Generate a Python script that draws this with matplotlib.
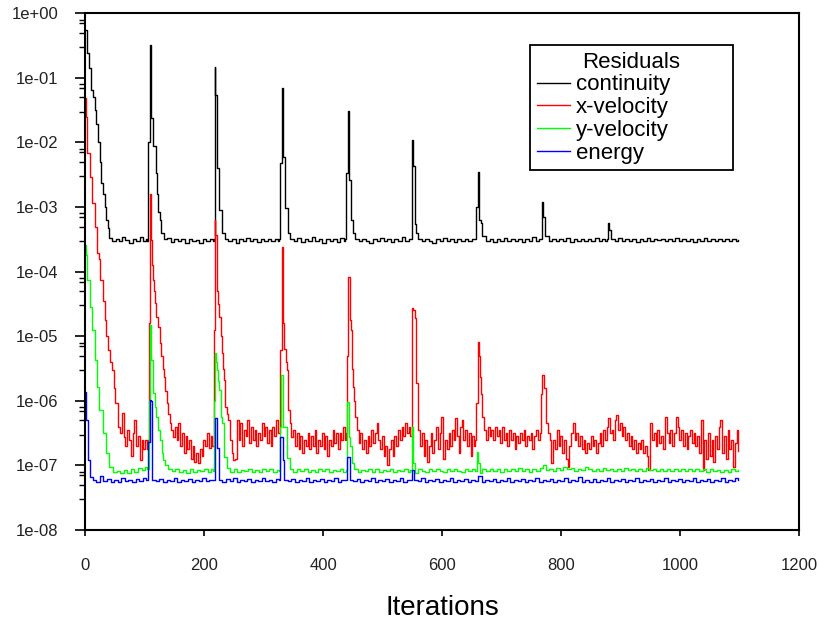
import matplotlib

matplotlib.use("Agg")
import matplotlib.pyplot as plt
import numpy as np
from matplotlib.ticker import FixedLocator, LogLocator, NullFormatter

# residual histories, as log10(residual) at given iterations
cont_it = [0, 3, 4, 6, 9, 10, 13, 16, 19, 22, 25, 27, 30, 33, 36, 38, 41,
           46, 52, 57, 63, 68, 74, 80, 86, 92, 98, 103,
           105, 106, 109, 110, 111, 114, 115, 119, 121, 123, 126, 128, 132,
           138, 144, 150, 156, 162, 168, 174, 180, 186, 192, 198, 204, 210, 215,
           217, 218, 219, 221, 222, 225, 226, 229, 231, 235,
           241, 247, 253, 259, 265, 271, 277, 283, 289, 295, 301, 307, 313, 319, 324,
           326, 327, 330, 331, 332, 335, 336, 339, 341, 345,
           351, 357, 363, 369, 375, 381, 387, 393, 399, 405, 411, 417, 423, 429, 435,
           437, 438, 441, 442, 443, 446, 447, 450, 454,
           460, 466, 472, 478, 484, 490, 496, 502, 508, 514, 520, 526, 532, 538, 544,
           549, 550, 551, 553, 554, 557, 560,
           566, 572, 578, 584, 590, 596, 602, 608, 614, 620, 626, 632, 638, 644, 650,
           656, 657, 660, 661, 662, 665, 668,
           674, 680, 686, 692, 698, 704, 710, 716, 722, 728, 734, 740, 746, 752, 758, 763,
           767, 768, 769, 772, 773,
           779, 785, 791, 797, 803, 809, 815, 821, 827, 833, 839, 845, 851, 857, 863, 869, 874,
           878, 879, 880, 883, 884,
           890, 896, 902, 908, 914, 920, 926, 932, 938, 944, 950, 956, 962, 968, 974, 980,
           986, 992, 998, 1004, 1010, 1016, 1022, 1028, 1034, 1040, 1046, 1052, 1058,
           1064, 1070, 1076, 1082, 1088, 1094, 1097]
cont_log = [-0.26, -0.3, -0.62, -0.85, -0.85, -1.19, -1.3, -1.5, -1.72, -2.0, -2.3, -2.62, -2.8, -3.0, -3.2, -3.32, -3.48,
            -3.52, -3.49, -3.53, -3.47, -3.51, -3.55, -3.49, -3.52, -3.47, -3.53, -3.5,
            -3.52, -1.99, -1.99, -0.49, -1.62, -1.62, -2.05, -2.47, -2.8, -3.08, -3.2, -3.4, -3.5,
            -3.48, -3.54, -3.5, -3.52, -3.49, -3.55, -3.5, -3.52, -3.51, -3.55, -3.5, -3.52, -3.49, -3.53,
            -3.5, -0.83, -1.27, -1.27, -2.4, -2.4, -3.05, -3.05, -3.4, -3.5,
            -3.53, -3.49, -3.55, -3.5, -3.52, -3.48, -3.53, -3.5, -3.54, -3.49, -3.52, -3.5, -3.53, -3.49, -3.52,
            -3.5, -2.32, -2.32, -1.16, -2.22, -2.22, -3.02, -3.02, -3.4, -3.5,
            -3.52, -3.48, -3.54, -3.5, -3.53, -3.47, -3.52, -3.5, -3.55, -3.49, -3.52, -3.5, -3.54, -3.48, -3.52,
            -3.5, -2.48, -2.48, -1.52, -2.58, -2.58, -3.2, -3.4, -3.5,
            -3.53, -3.49, -3.52, -3.55, -3.5, -3.52, -3.48, -3.53, -3.5, -3.54, -3.5, -3.52, -3.47, -3.53, -3.5,
            -3.5, -1.96, -2.37, -2.37, -3.26, -3.4, -3.5,
            -3.53, -3.49, -3.52, -3.55, -3.5, -3.53, -3.48, -3.52, -3.5, -3.54, -3.49, -3.52, -3.5, -3.53, -3.49,
            -3.5, -3.0, -3.0, -2.45, -3.2, -3.25, -3.45,
            -3.52, -3.49, -3.54, -3.5, -3.52, -3.48, -3.53, -3.5, -3.52, -3.49, -3.54, -3.5, -3.52, -3.47, -3.53, -3.5,
            -3.5, -2.92, -3.15, -3.15, -3.45,
            -3.52, -3.49, -3.53, -3.5, -3.52, -3.48, -3.54, -3.5, -3.52, -3.49, -3.53, -3.5, -3.52, -3.48, -3.53, -3.5, -3.52,
            -3.5, -3.24, -3.36, -3.36, -3.5,
            -3.52, -3.48, -3.53, -3.5, -3.52, -3.49, -3.54, -3.5, -3.52, -3.48, -3.53, -3.5, -3.51, -3.49, -3.53, -3.5,
            -3.52, -3.48, -3.53, -3.5, -3.52, -3.49, -3.54, -3.5, -3.52, -3.48, -3.53, -3.5, -3.52,
            -3.49, -3.53, -3.5, -3.52, -3.5, -3.53, -3.51]

xvel_it = [0, 2, 4, 8, 12, 16, 20, 23, 26, 30, 33, 36, 39, 42, 45, 48, 51, 55, 59,
           62, 65, 68, 71, 74, 77, 80, 83, 86, 89, 92, 95, 98, 101, 104, 106,
           107, 109, 110, 111, 113, 114, 116, 118, 120, 123, 126, 128, 131, 133, 135, 137, 140, 142, 145, 148,
           151, 154, 157, 160, 163, 166, 169, 172, 175, 178, 181, 184, 187, 190, 193, 196, 199, 202, 205, 208, 211, 214,
           216, 217, 218, 219, 221, 222, 224, 226, 228, 230, 232, 234, 236, 238, 241, 244, 247, 249,
           252, 255, 258, 261, 264, 267, 270, 273, 276, 279, 282, 285, 288, 291, 294, 297, 300, 303, 306, 309,
           312, 315, 318, 321, 324,
           326, 327, 330, 331, 332, 333, 335, 337, 339, 341, 344, 347,
           350, 353, 356, 359, 362, 365, 368, 371, 374, 377, 380, 383, 386, 389, 392, 395, 398, 401, 404, 407,
           410, 413, 416, 419, 422, 425, 428, 431, 434, 437,
           439, 440, 441, 442, 444, 445, 447, 449, 450, 452, 454, 457,
           460, 463, 466, 469, 472, 475, 478, 481, 484, 487, 490, 493, 496, 499, 502, 505, 508, 511, 514, 517,
           520, 523, 526, 529, 532, 535, 538, 541, 544, 547,
           549, 550, 552, 554, 556, 557, 559, 560, 563,
           566, 569, 572, 575, 578, 581, 584, 587, 590, 593, 596, 599, 602, 605, 608, 611, 614, 617, 620, 622,
           625, 628, 631, 633, 636, 639, 642, 645, 648, 651, 654,
           656, 657, 660, 661, 663, 664, 666, 668, 671,
           674, 677, 680, 683, 686, 689, 692, 695, 698, 701, 704, 707, 710, 713, 716, 719, 722, 725, 728, 731,
           734, 737, 740, 743, 746, 749, 752, 755, 758, 761, 764,
           766, 767, 768, 771, 772, 774, 775, 778, 781,
           784, 787, 790, 793, 796, 799, 802, 805, 808, 811, 814, 817, 820, 823, 826, 829, 832, 835, 838, 841,
           844, 847, 850, 853, 856, 859, 862, 865, 868, 871, 874, 877, 879, 882, 885, 888, 891, 893, 896, 899,
           902, 905, 908, 911, 914, 917, 920, 923, 926, 929, 932, 935, 938, 941, 944, 947, 950, 953, 956, 959,
           962, 965, 968, 971, 974, 975, 978, 981, 984, 987, 990, 993, 996, 999, 1002, 1005, 1008, 1011, 1014,
           1017, 1020, 1023, 1026, 1029, 1032, 1035, 1038, 1041, 1044, 1047, 1050, 1053, 1056, 1059, 1062,
           1065, 1068, 1071, 1074, 1077, 1080, 1083, 1086, 1089, 1092, 1095, 1097]
xvel_log = [-1.31, -1.6, -2.17, -2.53, -2.94, -3.31, -3.71, -3.8, -4.13, -4.45, -4.75, -5.0, -5.21, -5.4, -5.52, -5.8, -6.04, -6.4, -6.5,
            -6.19, -6.56, -6.7, -6.45, -6.6, -6.85, -6.5, -6.3, -6.7, -6.55, -6.92, -6.6, -6.75, -6.6, -6.75, -6.6,
            -4.8, -4.8, -2.79, -3.51, -3.9, -4.13, -4.3, -4.49, -4.7, -4.85, -5.1, -5.31, -5.5, -5.63, -5.85, -6.04, -6.2, -6.35, -6.45, -6.56,
            -6.4, -6.6, -6.35, -6.7, -6.5, -6.8, -6.55, -6.75, -6.6, -6.9, -6.7, -6.95, -6.8, -6.97, -6.75, -6.85, -6.6, -6.7, -6.5, -6.73, -6.55, -6.7,
            -6.6, -4.9, -3.2, -3.43, -3.9, -4.3, -4.5, -4.7, -5.0, -5.26, -5.5, -5.68, -6.1, -6.2, -6.3, -6.6, -6.8, -6.92,
            -6.9, -6.3, -6.6, -6.35, -6.7, -6.45, -6.55, -6.3, -6.65, -6.4, -6.6, -6.45, -6.7, -6.5, -6.6, -6.35, -6.55, -6.4, -6.65, -6.45,
            -6.7, -6.4, -6.55, -6.3, -6.5,
            -6.5, -5.21, -5.21, -3.62, -4.34, -4.8, -5.2, -5.4, -5.52, -6.14, -6.35, -6.56,
            -6.45, -6.7, -6.5, -6.75, -6.55, -6.8, -6.6, -6.7, -6.5, -6.75, -6.55, -6.7, -6.45, -6.8, -6.6, -6.7, -6.5, -6.75, -6.55, -6.85,
            -6.6, -6.7, -6.45, -6.65, -6.5, -6.75, -6.5, -6.6, -6.4, -6.6,
            -6.5, -5.31, -5.31, -4.08, -4.08, -4.75, -4.9, -5.5, -5.78, -6.0, -6.25, -6.45,
            -6.65, -6.5, -6.75, -6.6, -6.8, -6.55, -6.7, -6.45, -6.65, -6.5, -6.35, -6.6, -6.75, -6.55, -6.85, -6.7, -7.0, -6.75, -6.6, -6.85,
            -6.55, -6.7, -6.45, -6.6, -6.4, -6.55, -6.35, -6.5, -6.4, -6.55,
            -6.4, -4.57, -4.6, -4.72, -5.3, -5.73, -6.1, -6.45, -6.7,
            -6.5, -6.85, -6.6, -6.95, -6.7, -6.5, -6.8, -6.6, -6.4, -6.75, -6.5, -6.25, -6.9, -6.6, -6.75, -6.5, -6.7, -6.45, -6.6, -6.27,
            -6.55, -6.8, -6.4, -6.3, -6.6, -6.45, -6.7, -6.5, -6.85, -6.55, -6.7,
            -6.6, -6.04, -6.04, -5.09, -5.3, -5.63, -5.9, -6.25, -6.45,
            -6.6, -6.4, -6.55, -6.45, -6.6, -6.4, -6.55, -6.45, -6.65, -6.4, -6.6, -6.5, -6.7, -6.45, -6.6, -6.5, -6.75, -6.55, -6.65, -6.5,
            -6.6, -6.45, -6.7, -6.55, -6.6, -6.5, -6.75, -6.55, -6.45, -6.6, -6.5,
            -6.5, -5.9, -5.6, -5.6, -5.8, -5.8, -6.35, -6.5, -6.6,
            -6.97, -6.6, -6.75, -6.45, -6.7, -6.55, -6.8, -6.6, -6.9, -7.02, -6.7, -6.5, -6.35, -6.6, -6.5, -6.7, -6.55, -6.75, -6.6, -6.8,
            -6.65, -6.75, -6.55, -6.7, -6.6, -6.8, -6.65, -6.5, -6.7, -6.45, -6.6, -6.4, -6.27, -6.5, -6.45, -6.6, -6.3, -6.22, -6.45, -6.35,
            -6.55, -6.4, -6.6, -6.5, -6.7, -6.55, -6.75, -6.6, -6.8, -6.65, -6.75, -6.6, -6.8, -6.7, -6.85, -7.07, -6.35, -6.6, -6.5, -6.7,
            -6.45, -6.65, -6.55, -6.75, -6.4, -6.25, -6.5, -6.65, -6.45, -6.7, -6.5, -6.25, -6.4, -6.6, -6.45, -6.7, -6.5, -6.75, -6.55,
            -6.45, -6.65, -6.5, -6.7, -6.55, -6.8, -6.3, -7.07, -6.6, -6.9, -6.5, -6.85, -6.6, -6.95, -6.55, -6.75,
            -6.4, -6.3, -6.8, -6.55, -6.9, -6.45, -6.75, -6.6, -7.02, -6.65, -6.45, -6.77]

yvel_it = [0, 2, 4, 8, 12, 16, 20, 24, 30, 36, 41, 47,
           53, 59, 65, 71, 77, 83, 89, 95, 101, 105,
           106, 107, 108, 109, 111, 114, 117, 120, 123, 126, 129, 131, 135, 140,
           146, 152, 158, 164, 170, 176, 182, 188, 194, 200, 206, 212, 215,
           216, 218, 220, 222, 224, 226, 229, 231, 233, 238,
           244, 250, 256, 262, 268, 274, 280, 286, 292, 298, 304, 310, 316, 322, 326,
           328, 330, 332, 336, 339, 344,
           350, 356, 362, 368, 374, 380, 386, 392, 398, 404, 410, 416, 422, 428, 434, 439,
           440, 441, 443, 444, 446, 448, 452,
           458, 464, 470, 476, 482, 488, 494, 500, 506, 512, 518, 524, 530, 536, 542, 547,
           549, 551, 552, 555, 560,
           566, 572, 578, 584, 590, 596, 602, 608, 614, 620, 626, 632, 638, 644, 650, 656,
           658, 660, 661, 664, 668,
           674, 680, 686, 692, 698, 704, 710, 716, 722, 728, 734, 740, 746, 752, 758, 764, 770, 774,
           780, 786, 792, 798, 804, 810, 816, 822, 828, 834, 840, 846, 852, 858, 864, 870, 876, 882,
           888, 894, 900, 906, 912, 918, 924, 930, 936, 942, 948, 954, 960, 966, 972, 978, 984, 990,
           996, 1002, 1008, 1014, 1020, 1026, 1032, 1038, 1044, 1050, 1056, 1062, 1068, 1074, 1080,
           1086, 1092, 1097]
yvel_log = [-3.59, -3.74, -4.13, -4.54, -4.9, -5.37, -5.78, -6.14, -6.5, -6.81, -7.02, -7.1,
            -7.08, -7.12, -7.07, -7.11, -7.06, -7.1, -7.04, -7.07, -7.03, -7.06,
            -7.05, -6.0, -6.0, -4.83, -5.37, -5.88, -6.1, -6.25, -6.45, -6.6, -6.8, -6.92, -7.0, -7.05,
            -7.09, -7.06, -7.1, -7.07, -7.11, -7.06, -7.1, -7.07, -7.09, -7.05, -7.1, -7.06, -7.08,
            -6.0, -5.26, -5.4, -5.52, -5.7, -5.83, -6.25, -6.35, -6.87, -7.04,
            -7.1, -7.06, -7.1, -7.07, -7.09, -7.05, -7.1, -7.07, -7.1, -7.05, -7.09, -7.06, -7.1, -7.07, -7.09,
            -6.4, -5.6, -6.4, -6.4, -6.89, -7.05,
            -7.1, -7.06, -7.09, -7.05, -7.1, -7.07, -7.1, -7.06, -7.09, -7.05, -7.1, -7.07, -7.09, -7.05, -7.1, -7.07,
            -6.56, -6.02, -6.02, -6.56, -6.7, -6.97, -7.05,
            -7.1, -7.07, -7.09, -7.05, -7.1, -7.06, -7.1, -7.07, -7.09, -7.05, -7.1, -7.07, -7.09, -7.06, -7.1, -7.07,
            -6.4, -6.4, -6.97, -7.12, -7.06,
            -7.08, -7.1, -7.06, -7.09, -7.05, -7.08, -7.1, -7.06, -7.09, -7.05, -7.08, -7.1, -7.06, -7.09, -7.06, -7.08,
            -6.79, -6.79, -6.97, -7.12, -7.06,
            -7.08, -7.05, -7.09, -7.06, -7.1, -7.05, -7.08, -7.06, -7.09, -7.04, -7.08, -7.06, -7.1, -7.05, -7.08, -7.04, -7.0, -7.07,
            -7.05, -7.09, -7.04, -7.07, -7.02, -7.06, -7.04, -7.08, -7.05, -7.07, -7.03, -7.06, -7.09, -7.05, -7.08, -7.04, -7.07, -7.05,
            -7.09, -7.06, -7.08, -7.04, -7.07, -7.05, -7.09, -7.06, -7.08, -7.04, -7.07, -7.05, -7.08, -7.06, -7.09, -7.05, -7.08, -7.06,
            -7.09, -7.05, -7.08, -7.06, -7.09, -7.05, -7.08, -7.06, -7.1, -7.06, -7.09, -7.07, -7.1, -7.07, -7.1,
            -7.06, -7.09, -7.07]

energy_it = [0, 2, 5, 8, 13,
             19, 25, 31, 37, 43, 49, 55, 61, 67, 73, 79, 85, 91, 97, 103,
             105, 106, 108, 109, 111, 112, 113,
             119, 125, 131, 137, 143, 149, 155, 161, 167, 173, 179, 185, 191, 197, 203, 209, 215,
             217, 218, 220, 221, 223, 225,
             231, 237, 243, 249, 255, 261, 267, 273, 279, 285, 291, 297, 303, 309, 315, 321, 326,
             327, 328, 332, 333, 335,
             341, 347, 353, 359, 365, 371, 377, 383, 389, 395, 401, 407, 413, 419, 425, 431, 437,
             440, 441, 444, 445,
             451, 457, 463, 469, 475, 481, 487, 493, 499, 505, 511, 517, 523, 529, 535, 541, 547,
             549, 550, 552, 553,
             559, 565, 571, 577, 583, 589, 595, 601, 607, 613, 619, 625, 631, 637, 643, 649, 655,
             661, 667, 673, 679, 685, 691, 697, 703, 709, 715, 721, 727, 733, 739, 745, 751, 757,
             763, 769, 775, 781, 787, 793, 799, 805, 811, 817, 823, 829, 835, 841, 847, 853, 859,
             865, 871, 877, 883, 889, 895, 901, 907, 913, 919, 925, 931, 937, 943, 949, 955, 961,
             967, 973, 979, 985, 991, 997, 1003, 1009, 1015, 1021, 1027, 1033, 1039, 1045, 1051,
             1057, 1063, 1069, 1075, 1081, 1087, 1093, 1097]
energy_log = [-5.87, -6.3, -6.92, -7.18, -7.22,
              -7.25, -7.17, -7.24, -7.21, -7.26, -7.22, -7.25, -7.2, -7.24, -7.22, -7.26, -7.21, -7.24, -7.2, -7.23,
              -7.22, -6.64, -6.64, -5.99, -6.0, -6.9, -7.22,
              -7.24, -7.21, -7.25, -7.22, -7.24, -7.2, -7.25, -7.22, -7.24, -7.21, -7.25, -7.22, -7.24, -7.2, -7.24, -7.22, -7.23,
              -7.22, -6.27, -6.27, -6.73, -6.73, -7.22,
              -7.25, -7.21, -7.24, -7.2, -7.25, -7.22, -7.24, -7.21, -7.25, -7.22, -7.24, -7.2, -7.24, -7.22, -7.25, -7.21, -7.23,
              -7.22, -6.56, -6.56, -6.92, -7.22,
              -7.24, -7.21, -7.25, -7.22, -7.24, -7.2, -7.25, -7.22, -7.24, -7.21, -7.25, -7.22, -7.24, -7.2, -7.25, -7.22, -7.23,
              -7.22, -6.87, -6.87, -7.22,
              -7.24, -7.21, -7.25, -7.22, -7.24, -7.2, -7.25, -7.22, -7.24, -7.21, -7.25, -7.22, -7.24, -7.2, -7.25, -7.22, -7.23,
              -7.22, -7.07, -7.07, -7.22,
              -7.24, -7.2, -7.25, -7.22, -7.24, -7.21, -7.26, -7.22, -7.24, -7.2, -7.25, -7.22, -7.24, -7.21, -7.25, -7.22, -7.24,
              -7.17, -7.25, -7.22, -7.24, -7.21, -7.25, -7.22, -7.24, -7.2, -7.25, -7.22, -7.24, -7.21, -7.25, -7.22, -7.24, -7.2,
              -7.25, -7.22, -7.24, -7.21, -7.25, -7.22, -7.24, -7.2, -7.25, -7.22, -7.24, -7.18, -7.25, -7.22, -7.26, -7.21, -7.25,
              -7.22, -7.24, -7.2, -7.25, -7.22, -7.24, -7.21, -7.25, -7.22, -7.24, -7.2, -7.25, -7.22, -7.24, -7.21, -7.25, -7.22,
              -7.24, -7.2, -7.25, -7.22, -7.24, -7.21, -7.26, -7.22, -7.24, -7.2, -7.25, -7.22, -7.24, -7.21, -7.25,
              -7.22, -7.24, -7.2, -7.25, -7.22, -7.24, -7.2, -7.23]

series = [
    ("continuity", cont_it, cont_log, "#000000"),
    ("x-velocity", xvel_it, xvel_log, "#ff0000"),
    ("y-velocity", yvel_it, yvel_log, "#00ff00"),
    ("energy", energy_it, energy_log, "#0000ff"),
]

x_ticks = [0, 200, 400, 600, 800, 1000, 1200]
y_ticks = [1e-8, 1e-7, 1e-6, 1e-5, 1e-4, 1e-3, 1e-2, 1e-1, 1e0]
y_ticklabels = ["1e-08", "1e-07", "1e-06", "1e-05", "1e-04", "1e-03", "1e-02", "1e-01", "1e+00"]

plt.rcParams["font.family"] = ["Liberation Sans", "DejaVu Sans"]

fig = plt.figure(figsize=(8.19, 6.21), dpi=100)
ax = fig.add_axes([0.1038, 0.1465, 0.8718, 0.8321])

for name, it, lg, col in series:
    ax.plot(it, 10 ** np.array(lg), color=col, lw=1.0, drawstyle="steps-post", label=name)

ax.set_yscale("log")
ax.set_xlim(0, 1200)
ax.set_ylim(1e-8, 1e0)
ax.set_xticks(x_ticks)
ax.set_xticklabels([str(t) for t in x_ticks])
ax.yaxis.set_major_locator(FixedLocator(y_ticks))
ax.set_yticklabels(y_ticklabels)
ax.yaxis.set_minor_locator(LogLocator(base=10, subs=(3, 5, 7, 8), numticks=20))
ax.yaxis.set_minor_formatter(NullFormatter())

ax.tick_params(axis="y", which="major", direction="out", length=7, width=1.2,
               labelsize=12, pad=12, labelcolor="#222222")
ax.tick_params(axis="y", which="minor", direction="out", length=4, width=1.0)
ax.tick_params(axis="x", which="major", direction="out", length=4, width=1.2,
               labelsize=12, pad=16, labelcolor="#222222")
for s in ax.spines.values():
    s.set_linewidth(1.5)

ax.set_xlabel("Iterations", fontsize=20, labelpad=16)

# fixed-width legend box, entries left aligned, title centred
leg = ax.legend(title="Residuals", loc="upper left", bbox_to_anchor=(0.6232, 0.0, 0.2843, 0.9387),
                mode="expand", borderaxespad=0, fontsize=16, title_fontsize=16, fancybox=False,
                framealpha=1, edgecolor="black", handlelength=1.5, handletextpad=0.25,
                labelspacing=0.08, borderpad=0.3)
leg.get_frame().set_linewidth(1.3)

fig.savefig("out.png", dpi=100)
